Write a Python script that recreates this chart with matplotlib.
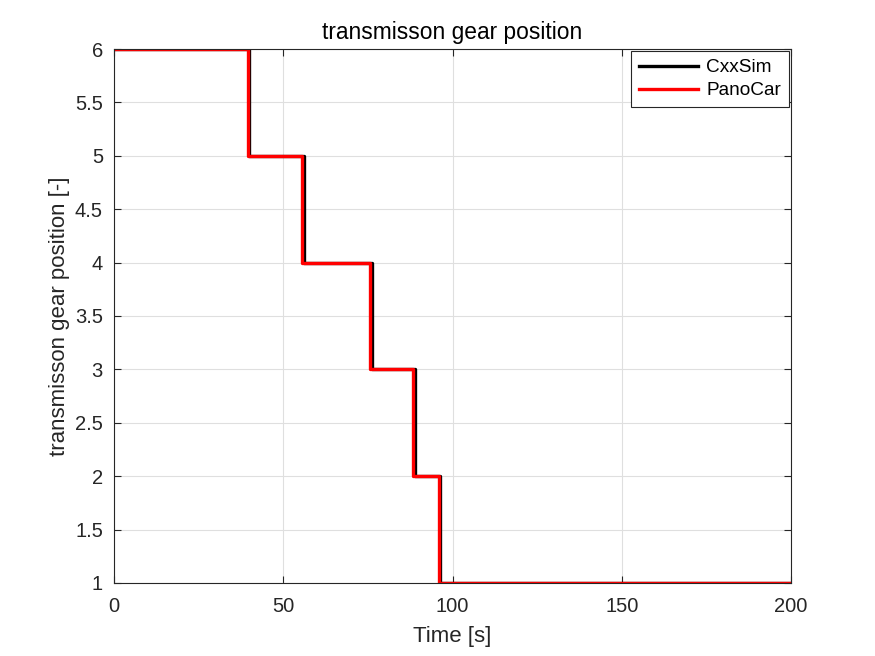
import matplotlib
matplotlib.use("Agg")
import matplotlib.pyplot as plt
import numpy as np

plt.rcParams['font.family'] = ['Liberation Sans', 'DejaVu Sans']

# step change times and gear values
cxx_t = [0, 40.0, 56.0, 76.1, 88.8, 96.4, 200]
cxx_g = [6, 5, 4, 3, 2, 1, 1]
pano_t = [0, 39.6, 55.6, 75.6, 88.4, 96.0, 200]
pano_g = [6, 5, 4, 3, 2, 1, 1]

xticks = [0, 50, 100, 150, 200]
yticks = [1, 1.5, 2, 2.5, 3, 3.5, 4, 4.5, 5, 5.5, 6]
yticklabels = ['1', '1.5', '2', '2.5', '3', '3.5', '4', '4.5', '5', '5.5', '6']

fig = plt.figure(figsize=(8.75, 6.56), dpi=100)
ax = fig.add_axes([0.1303, 0.1113, 0.7737, 0.814])

ax.step(cxx_t, cxx_g, where='post', color='black', lw=2.4, label='CxxSim')
ax.step(pano_t, pano_g, where='post', color='red', lw=2.4, label='PanoCar')

ax.set_xlim(0, 200)
ax.set_ylim(1, 6)
ax.set_xticks(xticks)
ax.set_yticks(yticks)
ax.set_yticklabels(yticklabels)
ax.grid(True, color='#dfdfdf', lw=0.8)
ax.set_axisbelow(True)
ax.tick_params(direction='in', top=True, right=True, labelsize=14.5, length=5, width=0.8,
               color='#262626', labelcolor='#262626')
ax.tick_params(axis='x', pad=10)
ax.tick_params(axis='y', pad=8)
for s in ax.spines.values():
    s.set_color('#262626')
    s.set_linewidth(0.8)

ax.set_xlabel('Time [s]', fontsize=16, color='#262626', labelpad=7)
ax.set_ylabel('transmisson gear position [-]', fontsize=16, color='#262626', labelpad=3.5)
ax.set_title('transmisson gear position', fontsize=16.4, color='black', pad=7)

leg = ax.legend(loc='upper right', fontsize=13.7, fancybox=False, framealpha=1,
                edgecolor='#262626', borderaxespad=0.12, handlelength=3.1, borderpad=0.4,
                labelspacing=0.3, handletextpad=0.45)
leg.get_frame().set_linewidth(0.8)

fig.savefig('out.png', dpi=100)
